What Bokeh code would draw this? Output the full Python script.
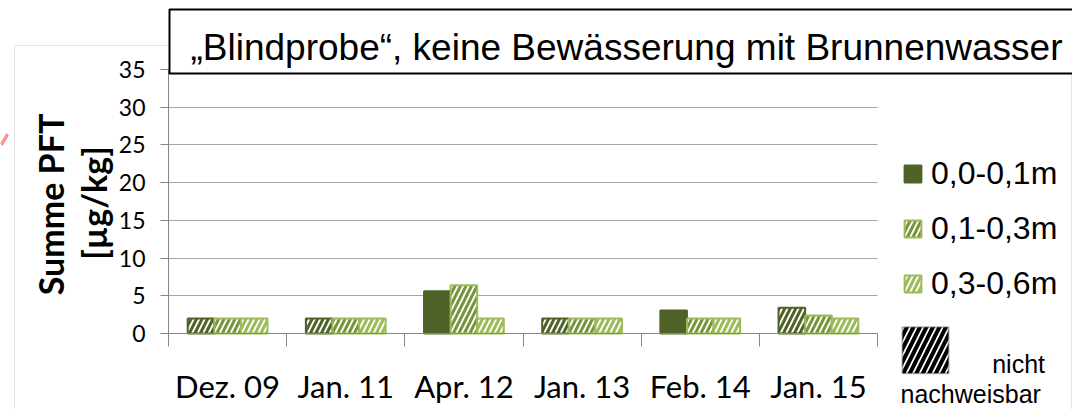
import math
from bokeh.plotting import figure
from bokeh.models import (Range1d, FixedTicker, LinearAxis, Label, Legend, LegendItem,
                          BoxAnnotation, PolyAnnotation, Grid)
from bokeh.embed import file_html
from bokeh.resources import INLINE

# ---- data ----
categories = ["Dez. 09", "Jan. 11", "Apr. 12", "Jan. 13", "Feb. 14", "Jan. 15"]
series_names = ["0,0-0,1m", "0,1-0,3m", "0,3-0,6m"]
s1 = [2.0, 2.0, 5.6, 2.0, 3.05, 3.4]
s1_nachweisbar = [False, False, True, False, True, False]
s2 = [2.0, 2.0, 6.4, 2.0, 2.0, 2.4]
s3 = [2.0, 2.0, 2.0, 2.0, 2.0, 2.0]
y_ticks = [0, 5, 10, 15, 20, 25, 30, 35]
title_text = "\u201eBlindprobe\u201c, keine Bew\u00e4sserung mit Brunnenwasser"
y_label_lines = ["Summe PFT", "[\u00b5g/kg]"]
nd_words = ["nicht", "nachweisbar"]

# ---- layout (pixels) ----
W, H = 1072, 409
PL, PR, PT, PB = 168, 877, 69, 333          # plot area edges on the canvas
YMAX = 35
n = len(categories)
ux = (PR - PL) / n
uy = (PB - PT) / YMAX

# ---- styles ----
C1, C2, C3 = "#4F6228", "#77933C", "#9BBB59"
AXIS = "#868686"
GRID = "#A6A6A6"
BW = 0.225

p = figure(width=W, height=H,
           x_range=Range1d(-PL / ux, (W - PL) / ux),
           y_range=Range1d(-(H - PB) / uy, YMAX + PT / uy),
           output_backend="svg", toolbar_location=None,
           x_axis_type=None, y_axis_type=None, min_border=0)
p.outline_line_color = None

grid = Grid(dimension=1, ticker=FixedTicker(ticks=y_ticks), bounds=(0, YMAX),
            grid_line_color=GRID)
try:
    grid.cross_bounds = (0, n)
    p.add_layout(grid)
except AttributeError:
    p.segment(x0=0, x1=n, y0=y_ticks[1:], y1=y_ticks[1:], line_color=GRID)

ya = LinearAxis(ticker=FixedTicker(ticks=y_ticks), fixed_location=0, bounds=(0, YMAX))
ya.major_tick_out = 8
ya.major_tick_in = 0
ya.minor_tick_line_color = None
ya.axis_line_color = AXIS
ya.major_tick_line_color = AXIS
ya.major_label_text_font = "Lato"
ya.major_label_text_font_size = "23px"
ya.major_label_text_color = "black"
ya.major_label_standoff = 15
p.add_layout(ya, "left")

centers = [i + 0.5 for i in range(n)]
bounds = [float(i) for i in range(n + 1)]
xa = LinearAxis(ticker=FixedTicker(ticks=centers, minor_ticks=bounds), fixed_location=0,
                bounds=(0, n),
                major_label_overrides={c: cat for c, cat in zip(centers, categories)})
xa.major_tick_out = 0
xa.major_tick_in = 0
xa.minor_tick_out = 13
xa.minor_tick_in = 0
xa.axis_line_color = AXIS
xa.minor_tick_line_color = AXIS
xa.major_tick_line_color = None
xa.major_label_text_font = "Lato"
xa.major_label_text_font_size = "31px"
xa.major_label_text_color = "black"
xa.major_label_standoff = 20
p.add_layout(xa, "below")

def hatched(xs, tops, hcolor, lcolor):
    return p.vbar(x=xs, top=tops, width=BW, fill_color="white", hatch_pattern="/",
                  hatch_color=hcolor, hatch_scale=11, hatch_weight=3,
                  line_color=lcolor, line_width=2)

x1 = [c - BW for c in centers]
x2 = centers
x3 = [c + BW for c in centers]

r1s = p.vbar(x=[x for x, f in zip(x1, s1_nachweisbar) if f],
             top=[v for v, f in zip(s1, s1_nachweisbar) if f],
             width=BW, fill_color=C1, line_color=C1, line_width=2)
r1h = hatched([x for x, f in zip(x1, s1_nachweisbar) if not f],
              [v for v, f in zip(s1, s1_nachweisbar) if not f], C1, C1)
r2 = hatched(x2, s2, C2, C3)
r3 = hatched(x3, s3, C3, C3)

# outer chart border and red arrow fragment
p.add_layout(BoxAnnotation(left=14, right=1071, top=H - 45, bottom=-10, left_units="screen",
                           right_units="screen", top_units="screen", bottom_units="screen",
                           fill_alpha=0, line_color=GRID, line_width=1))
p.add_layout(PolyAnnotation(xs=[0, 6, 8, 2], ys=[H - 143, H - 133, H - 135, H - 145],
                            xs_units="screen", ys_units="screen",
                            fill_color="red", line_color="red", line_width=1))

leg = Legend(items=[LegendItem(label=series_names[0], renderers=[r1s]),
                    LegendItem(label=series_names[1], renderers=[r2]),
                    LegendItem(label=series_names[2], renderers=[r3])],
             location=(902, 107), glyph_width=21, glyph_height=21,
             label_text_font="Liberation Sans", label_text_font_size="32px",
             label_text_color="black",
             spacing=18, padding=0, margin=0, border_line_color=None,
             background_fill_alpha=0, label_standoff=8)
p.add_layout(leg)

# "nicht nachweisbar" key
p.add_layout(BoxAnnotation(left=902, right=948, top=H - 326.7, bottom=H - 372.7,
                           left_units="screen", right_units="screen",
                           top_units="screen", bottom_units="screen",
                           fill_color="white", fill_alpha=1, hatch_pattern="/",
                           hatch_color="black", hatch_scale=13, hatch_weight=4,
                           line_color="black", line_width=2))
p.add_layout(Label(x=991.7, y=H - 363.3, x_units="screen", y_units="screen", text=nd_words[0],
                   text_font="Liberation Sans", text_font_size="25px", text_color="black",
                   text_baseline="alphabetic"))
p.add_layout(Label(x=900, y=H - 393.3, x_units="screen", y_units="screen", text=nd_words[1],
                   text_font="Liberation Sans", text_font_size="25px", text_color="black",
                   text_baseline="alphabetic"))

# y axis title (two lines, rotated)
for xx, yy, t in [(50, H - 204, y_label_lines[0]), (93, H - 202.5, y_label_lines[1])]:
    p.add_layout(Label(x=xx, y=yy, x_units="screen", y_units="screen", text=t,
                       angle=math.pi / 2, text_align="center", text_baseline="alphabetic",
                       text_font="Lato", text_font_style="bold", text_font_size="34px",
                       text_color="black"))

# title box
p.add_layout(Label(x=169, y=H - 41, x_units="screen", y_units="screen", text=title_text,
                   text_font="Liberation Sans", text_font_size="37px", text_color="black",
                   text_align="left", text_baseline="alphabetic",
                   border_line_color="black", border_line_width=2,
                   background_fill_color="white",
                   padding=dict(left=21, right=300, top=17, bottom=6)))

open("out.html", "w").write(file_html(p, INLINE))
